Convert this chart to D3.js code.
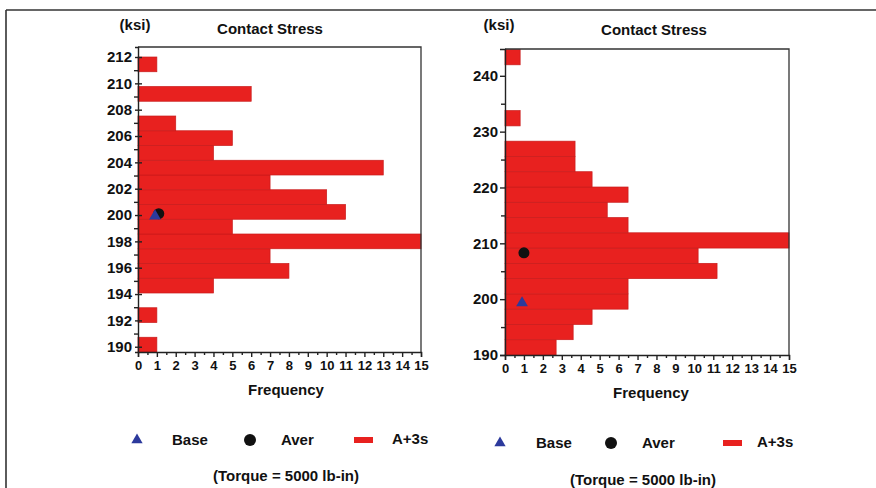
<!DOCTYPE html>
<html>
<head>
<meta charset="utf-8">
<script src="https://cdn.jsdelivr.net/npm/d3@7"></script>
<style>
  body { margin: 0; background: #fff; }
  svg text { font-family: Arial, "Liberation Sans", sans-serif; font-weight: bold; fill: #111; }
</style>
</head>
<body>
<svg id="chart" width="876" height="488"></svg>
<script>
// bin lower edges (ksi) and counts
const leftBinStart = [189.6, 190.72, 191.84, 192.96, 194.08, 195.2, 196.32, 197.44, 198.56, 199.68,
  200.8, 201.92, 203.04, 204.16, 205.28, 206.4, 207.52, 208.64, 209.76, 210.88];
const leftBinWidth = 1.12;
const leftCounts = [1, 0, 1, 0, 4, 8, 7, 15, 5, 11, 10, 7, 13, 4, 5, 2, 0, 6, 0, 1];

const rightBinStart = [190, 192.74, 195.47, 198.21, 200.94, 203.68, 206.41, 209.15, 211.88, 214.62,
  217.35, 220.09, 222.82, 225.56, 228.29, 231.03, 233.76, 236.5, 239.23, 241.97];
const rightBinWidth = 2.735;
const rightCounts = [2.7, 3.6, 4.6, 6.5, 6.5, 11.2, 10.2, 15, 6.5, 5.4, 6.5, 4.6, 3.7, 3.7, 0, 0.8, 0, 0, 0, 0.8];

// markers [frequency, ksi]
const leftBase = [0.9, 200.0];
const leftAver = [1.1, 200.1];
const rightBase = [0.9, 199.5];
const rightAver = [1.0, 208.3];

const xTicks = d3.range(0, 16);
const leftYTicks = [190, 192, 194, 196, 198, 200, 202, 204, 206, 208, 210, 212];
const leftYMinor = [191, 193, 195, 197, 199, 201, 203, 205, 207, 209, 211];
const rightYTicks = [190, 200, 210, 220, 230, 240];
const rightYMinor = [195, 205, 215, 225, 235];

const legendLabels = ["Base", "Aver", "A+3s"];
const titleText = "Contact Stress";
const unitText = "(ksi)";
const xLabelText = "Frequency";
const noteText = "(Torque = 5000 lb-in)";

const RED = "#e8211f";
const svg = d3.select("#chart");

// outer frame (only top and left are visible)
svg.append("line").attr("x1", 6).attr("x2", 876).attr("y1", 10).attr("y2", 10)
  .attr("stroke", "#333").attr("stroke-width", 1.6);
svg.append("line").attr("x1", 6).attr("x2", 6).attr("y1", 10).attr("y2", 488)
  .attr("stroke", "#333").attr("stroke-width", 1.6);

function panel(cfg) {
  const x = d3.scaleLinear().domain([0, 15]).range([cfg.left, cfg.right]);
  const y = d3.scaleLinear().domain(cfg.yDomain).range([cfg.bottom, cfg.top]);
  const g = svg.append("g");

  // bars
  g.selectAll("rect.bar")
    .data(cfg.counts.map((c, i) => ({ c: c, lo: cfg.bins[i], hi: cfg.bins[i] + cfg.binWidth })))
    .enter().filter(d => d.c > 0)
    .append("rect")
    .attr("class", "bar")
    .attr("x", x(0))
    .attr("y", d => y(d.hi))
    .attr("width", d => x(d.c) - x(0))
    .attr("height", d => y(d.lo) - y(d.hi))
    .attr("fill", RED)
    .attr("stroke", "#c81c1c")
    .attr("stroke-width", 0.7);

  // plot frame top / right
  g.append("path")
    .attr("d", `M${cfg.left},${cfg.top}H${cfg.right}V${cfg.bottom}`)
    .attr("fill", "none").attr("stroke", "#333").attr("stroke-width", 1.3);

  // x axis
  const xa = g.append("g").attr("transform", `translate(0,${cfg.bottom})`)
    .call(d3.axisBottom(x).tickValues(xTicks).tickSize(5).tickPadding(4).tickFormat(d3.format("d")));
  g.append("g").attr("transform", `translate(0,${cfg.bottom})`)
    .call(d3.axisBottom(x).tickValues(d3.range(0.5, 15, 1)).tickSize(3).tickFormat(""))
    .call(a => a.select(".domain").remove());
  xa.selectAll("text").style("font-size", "13px");

  // y axis
  const ya = g.append("g").attr("transform", `translate(${cfg.left},0)`)
    .call(d3.axisLeft(y).tickValues(cfg.yTicks).tickSize(cfg.tickOut).tickPadding(cfg.tickPad).tickFormat(d3.format("d")));
  ya.selectAll(".tick line").attr("x1", cfg.tickIn);
  ya.selectAll("text").style("font-size", "15px");
  g.append("g").attr("transform", `translate(${cfg.left},0)`)
    .call(d3.axisLeft(y).tickValues(cfg.yMinor).tickSize(4).tickFormat(""))
    .call(a => a.select(".domain").remove());

  g.selectAll(".domain, .tick line").attr("stroke", "#222").attr("stroke-width", 1.4);

  // markers
  g.append("circle").attr("cx", x(cfg.aver[0])).attr("cy", y(cfg.aver[1])).attr("r", 5.5).attr("fill", "#111");
  g.append("path").attr("d", d3.symbol(d3.symbolTriangle, 60)())
    .attr("transform", `translate(${x(cfg.base[0])},${y(cfg.base[1]) + 1})`)
    .attr("fill", "#2c3a9c");

  // texts
  g.append("text").attr("x", cfg.unitX).attr("y", 30).attr("text-anchor", "middle")
    .style("font-size", "15px").text(unitText);
  g.append("text").attr("x", cfg.titleX).attr("y", cfg.titleY).attr("text-anchor", "middle")
    .style("font-size", "15px").text(titleText);
  g.append("text").attr("x", cfg.xLabX).attr("y", cfg.xLabY).attr("text-anchor", "middle")
    .style("font-size", "15px").text(xLabelText);

  // legend
  const ly = cfg.legY;
  g.append("path").attr("d", d3.symbol(d3.symbolTriangle, 55)())
    .attr("transform", `translate(${cfg.leg[0]},${ly})`).attr("fill", "#2c3a9c");
  g.append("text").attr("x", cfg.leg[1]).attr("y", ly + 5).style("font-size", "15px").text(legendLabels[0]);
  g.append("circle").attr("cx", cfg.leg[2]).attr("cy", ly).attr("r", 6).attr("fill", "#111");
  g.append("text").attr("x", cfg.leg[3]).attr("y", ly + 5).style("font-size", "15px").text(legendLabels[1]);
  g.append("rect").attr("x", cfg.leg[4]).attr("y", ly - 3).attr("width", 19).attr("height", 6).attr("fill", RED);
  g.append("text").attr("x", cfg.leg[5]).attr("y", ly + 4).style("font-size", "15px").text(legendLabels[2]);

  g.append("text").attr("x", cfg.noteX).attr("y", cfg.noteY).attr("text-anchor", "middle")
    .style("font-size", "15px").text(noteText);
}

panel({
  left: 138, right: 421, top: 47, bottom: 352,
  yDomain: [189.6, 212.76],
  bins: leftBinStart, binWidth: leftBinWidth, counts: leftCounts,
  yTicks: leftYTicks, yMinor: leftYMinor, tickOut: 3, tickIn: 4, tickPad: 3,
  base: leftBase, aver: leftAver,
  unitX: 135, titleX: 270, titleY: 34, xLabX: 286, xLabY: 395,
  legY: 440, leg: [137, 172, 250, 281, 354, 392],
  noteX: 286, noteY: 481
});

panel({
  left: 505, right: 789, top: 49, bottom: 355,
  yDomain: [190, 244.8],
  bins: rightBinStart, binWidth: rightBinWidth, counts: rightCounts,
  yTicks: rightYTicks, yMinor: rightYMinor, tickOut: 5, tickIn: 0, tickPad: 2,
  base: rightBase, aver: rightAver,
  unitX: 499, titleX: 654, titleY: 35, xLabX: 651, xLabY: 398,
  legY: 443, leg: [500, 536, 611, 642, 723, 757],
  noteX: 643, noteY: 485
});
</script>
</body>
</html>
